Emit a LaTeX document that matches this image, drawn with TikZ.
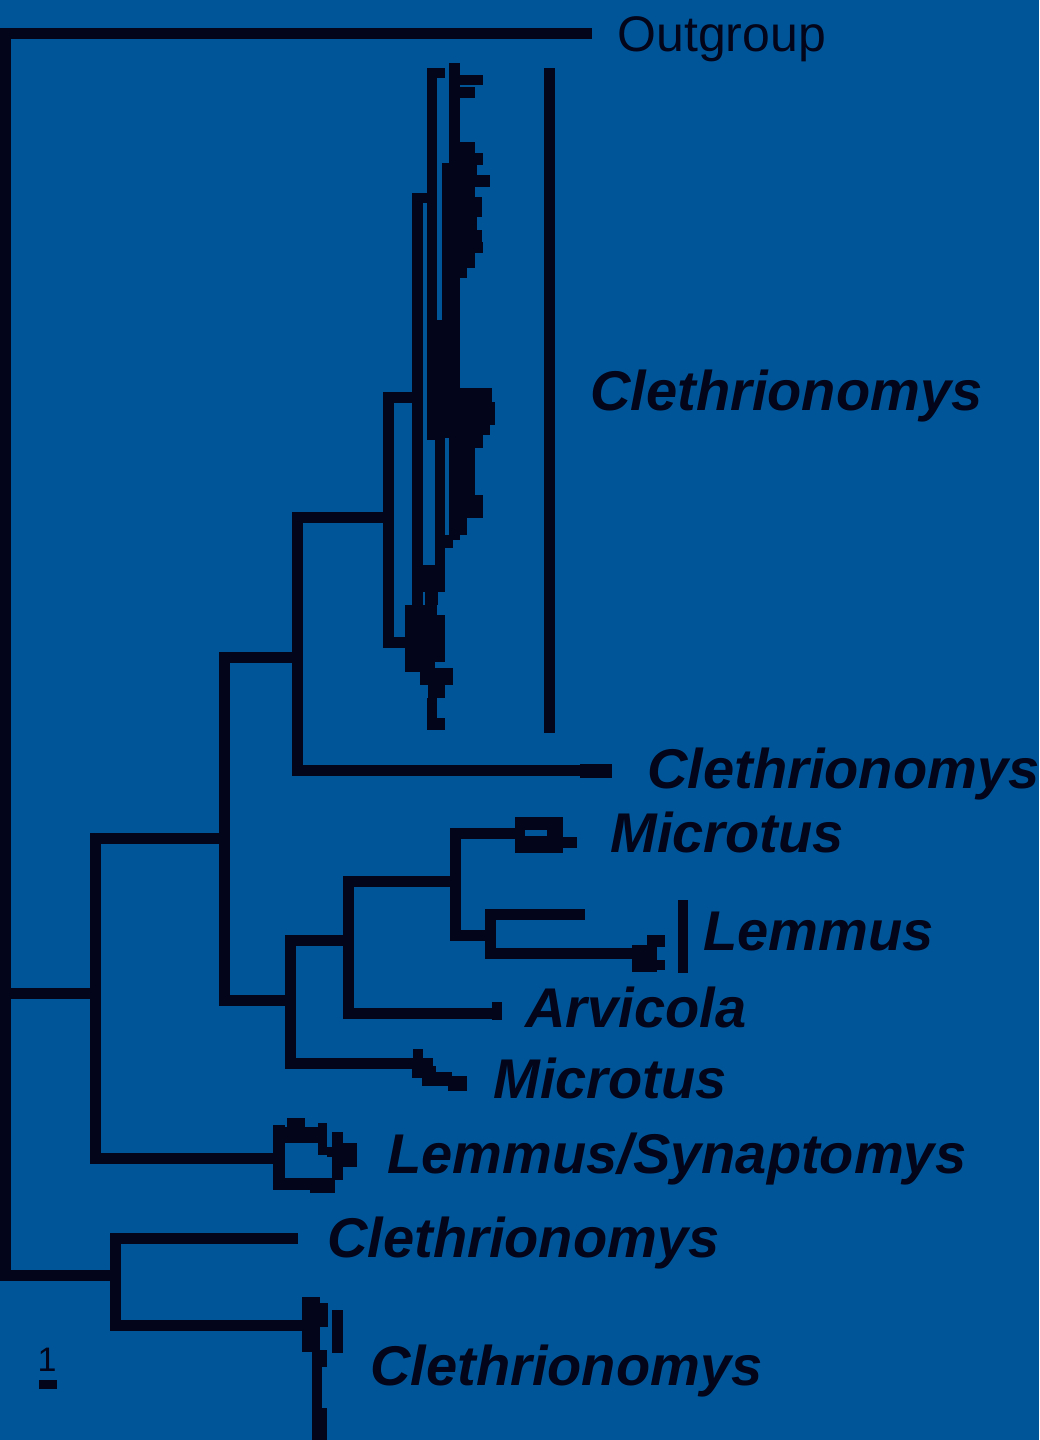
\documentclass[tikz,border=0pt]{standalone}
\usepackage{fontspec}
\setmainfont{Liberation Sans}
\usepackage{tikz}
\definecolor{TreeBlue}{RGB}{0,85,153}
\definecolor{TreeInk}{RGB}{3,6,26}

\begin{document}
\begin{tikzpicture}[x=0.5pt,y=-0.5pt,
    branch/.style={draw=TreeInk, line width=5.5pt, line join=miter},
    clade/.style={fill=TreeInk},
    taxon/.style={anchor=base west, inner sep=0pt, text=TreeInk,
      font=\fontsize{28}{32}\selectfont\bfseries\itshape}]
  \fill[TreeBlue] (0,0) rectangle (1039,1440);
  % internal nodes
  \coordinate (root) at (5.5,700);
  \coordinate (nA) at (95,993);
  \coordinate (nB) at (224,838);
  \coordinate (nC) at (297,657);
  \coordinate (nD) at (290,1000);
  \coordinate (nE) at (388,517);
  \coordinate (nF) at (348,940);
  \coordinate (nG) at (455,881);
  \coordinate (nH) at (490,935);
  \coordinate (nI) at (115,1275);
  % tips
  \coordinate (tOut) at (592,33.5);
  \coordinate (cUp) at (418,397);
  \coordinate (cLow) at (405,642);
  \coordinate (tCl2) at (583,770);
  \coordinate (tMic1) at (517,833);
  \coordinate (tLemA) at (585,914);
  \coordinate (tLemB) at (635,953);
  \coordinate (tArv) at (497,1013);
  \coordinate (tMic2) at (413,1063);
  \coordinate (tLS) at (279,1158);
  \coordinate (tCl3) at (298,1238);
  \coordinate (tCl4) at (303,1325);
  % branches
  \draw[branch] (root) |- (tOut);
  \draw[branch] (root) |- (nA);
  \draw[branch] (root) |- (nI);
  \draw[branch] (nA) |- (nB);
  \draw[branch] (nA) |- (tLS);
  \draw[branch] (nB) |- (nC);
  \draw[branch] (nB) |- (nD);
  \draw[branch] (nC) |- (nE);
  \draw[branch] (nC) |- (tCl2);
  \draw[branch] (nE) |- (cUp);
  \draw[branch] (nE) |- (cLow);
  \draw[branch] (nD) |- (nF);
  \draw[branch] (nD) |- (tMic2);
  \draw[branch] (nF) |- (nG);
  \draw[branch] (nF) |- (tArv);
  \draw[branch] (nG) |- (tMic1);
  \draw[branch] (nG) |- (nH);
  \draw[branch] (nH) |- (tLemA);
  \draw[branch] (nH) |- (tLemB);
  \draw[branch] (nI) |- (tCl3);
  \draw[branch] (nI) |- (tCl4);
  % collapsed clades as blocks
  \foreach \xa/\ya/\xb/\yb in {427/68/445/78, 427/68/437/440, 412/193/437/203,
      412/193/423/640, 442/163/452/320, 449/63/460/540, 428/320/460/395,
      428/395/450/438, 435/438/445/592, 450/438/457/535, 445/535/453/548,
      423/565/445/592, 425/588/438/605, 405/605/437/615, 405/615/445/642,
      405/642/445/662, 405/662/435/672, 420/668/453/685, 428/685/445/698,
      427/698/437/718, 427/718/445/730}
    \fill[clade] (\xa,\ya) rectangle (\xb,\yb);
  \foreach \ya/\yb/\xe in {75/85/483, 87/98/475, 142/153/475, 153/165/483,
      165/175/477, 175/187/490, 187/197/475, 197/207/482, 207/217/482,
      217/230/477, 230/242/482, 242/253/483, 253/268/475, 268/278/467,
      278/292/460, 365/388/460, 388/402/492, 402/425/495, 425/435/490,
      435/448/483, 448/472/475, 472/495/475, 495/518/483, 518/535/467}
    \fill[clade] (455,\ya) rectangle (\xe,\yb);
  \foreach \xa/\ya/\xb/\yb in {580/764/612/778,
      515/817/563/853, 563/837/577/848,
      632/945/657/972, 647/935/665/947, 657/960/665/970,
      492/1002/502/1020,
      413/1049/423/1058, 400/1058/433/1068, 412/1066/436/1078,
      422/1072/452/1086, 448/1076/467/1091,
      273/1125/285/1190, 287/1118/305/1127, 273/1127/318/1143,
      318/1123/327/1155, 327/1147/340/1157, 332/1132/343/1180,
      343/1143/357/1167, 273/1178/310/1190, 310/1178/335/1193,
      302/1297/320/1352, 320/1303/328/1327, 332/1310/343/1353,
      312/1350/327/1367, 312/1367/322/1440, 322/1408/327/1440}
    \fill[clade] (\xa,\ya) rectangle (\xb,\yb);
  \fill[TreeBlue] (525,830) rectangle (547,836);
  % clade bars
  \fill[clade] (544,68) rectangle (555,733);
  \fill[clade] (678,900) rectangle (688,973);
  % scale bar
  \fill[clade] (39,1380) rectangle (57,1389);
  \node[anchor=base, inner sep=0pt, text=TreeInk, font=\fontsize{17}{20}\selectfont] (scale) at (47,1371) {1};
  % labels
  \node[anchor=base west, inner sep=0pt, text=TreeInk, font=\fontsize{25}{30}\selectfont] (lOut) at (617,51) {Outgroup};
  \node[taxon] (lCl1) at (590,410) {Clethrionomys};
  \node[taxon] (lCl2) at (647,788) {Clethrionomys};
  \node[taxon] (lMic1) at (610,852) {Microtus};
  \node[taxon] (lLem) at (703,950) {Lemmus};
  \node[taxon] (lArv) at (525,1027) {Arvicola};
  \node[taxon] (lMic2) at (493,1098) {Microtus};
  \node[taxon] (lLS) at (387,1173) {Lemmus/Synaptomys};
  \node[taxon] (lCl3) at (327,1257) {Clethrionomys};
  \node[taxon] (lCl4) at (370,1385) {Clethrionomys};
\end{tikzpicture}
\end{document}
